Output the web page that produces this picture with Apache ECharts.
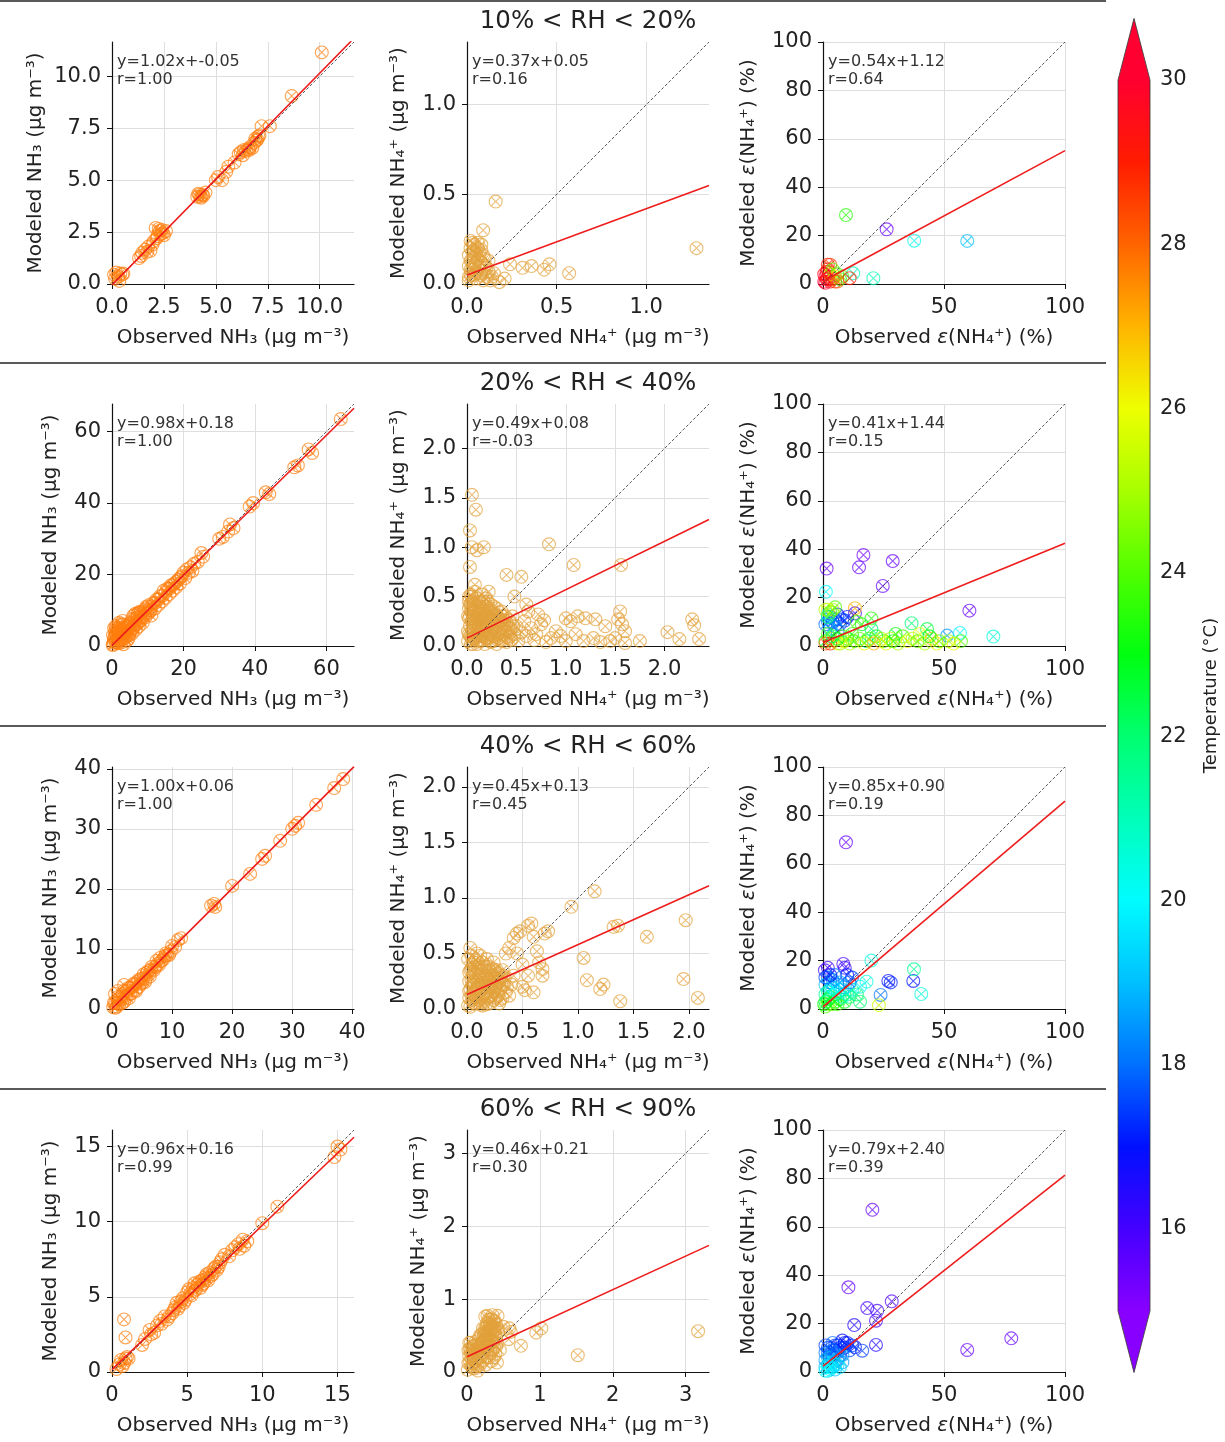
<!DOCTYPE html>
<html><head><meta charset="utf-8">
<script src="https://cdn.jsdelivr.net/npm/echarts@6/dist/echarts.min.js"></script>
<style>html,body{margin:0;padding:0;background:#fff}#c{width:1225px;height:1442px}</style>
</head><body><div id="c"></div>
<script>
// ---------------- DATA ----------------
const rhTitles = ['10% < RH < 20%', '20% < RH < 40%', '40% < RH < 60%', '60% < RH < 90%'];
const fitSlope     = [[1.02, 0.37, 0.54], [0.98, 0.49, 0.41], [1.00, 0.45, 0.85], [0.96, 0.46, 0.79]];
const fitIntercept = [[-0.05, 0.05, 1.12], [0.18, 0.08, 1.44], [0.06, 0.13, 0.90], [0.16, 0.21, 2.40]];
const fitR         = [[1.00, 0.16, 0.64], [1.00, -0.03, 0.15], [1.00, 0.45, 0.19], [0.99, 0.30, 0.39]];
const axisMax      = [[11.65, 1.35, 100], [67.7, 2.45, 100], [40.3, 2.18, 100], [16.1, 3.32, 100]];
const xTicks = [
  [[0, 2.5, 5, 7.5, 10], [0, 0.5, 1], [0, 50, 100]],
  [[0, 20, 40, 60], [0, 0.5, 1, 1.5, 2], [0, 50, 100]],
  [[0, 10, 20, 30, 40], [0, 0.5, 1, 1.5, 2], [0, 50, 100]],
  [[0, 5, 10, 15], [0, 1, 2, 3], [0, 50, 100]]
];
const yTicks = [
  [[0, 2.5, 5, 7.5, 10], [0, 0.5, 1], [0, 20, 40, 60, 80, 100]],
  [[0, 20, 40, 60], [0, 0.5, 1, 1.5, 2], [0, 20, 40, 60, 80, 100]],
  [[0, 10, 20, 30, 40], [0, 0.5, 1, 1.5, 2], [0, 20, 40, 60, 80, 100]],
  [[0, 5, 10, 15], [0, 1, 2, 3], [0, 20, 40, 60, 80, 100]]
];
const tickDecimals = [[1, 1, 0], [0, 1, 0], [0, 1, 0], [0, 0, 0]];
const tempRange = [15, 30];
const tempTicks = [16, 18, 20, 22, 24, 26, 28, 30];
const tempColors = ['#8800ff', '#4400ff', '#0010ff', '#0070ff', '#00c0ff', '#00fcff', '#00ffb8', '#00ff70',
                    '#00ff10', '#50ff00', '#a8ff00', '#eeff00', '#ffb400', '#ff6400', '#ff1c00', '#ff0030'];

// NH3 (observed, modeled)
const nh3_10_20 = [[0.1,0.45],[0.2,0.55],[0.3,0.35],[0.4,0.5],[0.5,0.45],[0.35,0.15],[0.15,0.25],[0.55,0.5],[1.3,1.25],[1.45,1.5],[1.6,1.65],[1.75,1.8],[1.85,1.6],[2.0,2.05],[2.1,2.7],[2.2,2.3],[2.3,2.55],[2.4,2.6],[2.5,2.35],[2.6,2.55],[2.25,2.65],[2.45,2.45],[4.1,4.2],[4.2,4.3],[4.3,4.15],[4.4,4.25],[4.5,4.4],[4.25,4.2],[5.0,5.0],[5.1,5.15],[5.3,5.0],[5.6,5.65],[5.5,5.4],[5.9,5.85],[6.1,6.25],[6.2,6.35],[6.3,6.2],[6.45,6.4],[6.55,6.5],[6.65,6.6],[6.75,6.55],[6.85,6.8],[6.95,6.9],[7.0,6.95],[7.1,7.15],[7.2,7.6],[7.6,7.6],[8.65,9.05],[10.1,11.15],[1.4,1.35],[1.7,1.55],[1.95,1.9],[2.15,2.2],[2.35,2.4],[4.15,4.35],[4.35,4.3],[6.35,6.45],[6.6,6.45],[6.9,7.0],[7.05,7.1]];
const nh3_20_40 = [[0.3,0.5],[0.5,2],[0.8,4],[1,1],[1.2,5],[1.5,2.5],[1.8,0.8],[2,3],[2.2,1.5],[2.5,4.5],[2.8,2],[3,3.5],[3.2,0.5],[3.5,5],[3.8,2.5],[4,4],[4.2,1.5],[4.5,5.5],[4.8,3],[5,6],[5.3,4],[5.6,7.5],[5.8,5],[6,8.5],[6.3,6],[6.6,4.5],[7,8],[7.3,6.5],[7.6,9.5],[8,7],[8.3,9],[8.6,6.5],[9,10],[9.3,8],[9.6,11],[10,9],[10.4,11.5],[10.8,10],[11,8.5],[11.5,12],[12,10.5],[12.5,13],[13,11.5],[13.5,14],[14,12.5],[14.5,15.5],[15,13.5],[15.5,16],[16,14.5],[16.5,17],[17,15.5],[17.5,17.5],[18,16.5],[18.5,18.5],[19,17.5],[19.5,19.5],[20,20.5],[20.5,19],[21,21.5],[21.5,20.5],[22,22],[22.5,21],[23,23],[24,23.5],[25,26],[25.5,25],[30,30],[31,30.5],[32.5,32],[33,34],[34,33],[38.5,39],[39.5,40],[43,43],[44,42.5],[51,50],[52,50.5],[55,55],[56,54],[64,63.5],[0.2,0.2],[1,3],[2,5],[3,6],[6.5,9],[7.5,5.5],[0.6,5],[1.5,4.5],[2.5,6],
  [0.5,1],[0.8,2.5],[1.2,3.5],[1.5,1],[1.8,4],[2,2],[2.3,3.5],[2.6,1],[3,4.5],[3.3,2],[3.6,3.5],[4,5.5],[4.3,3],[4.6,2],[5,4.5],[5.3,6.5],[5.6,3.5],[6,5],[6.4,7.5],[6.8,6],[7.2,9],[7.6,7],[8,9.5],[8.5,8],[9,8.5],[9.5,10.5],[10,10],[10.5,9.5],[11,11],[12,12],[13,13],[14,14],[15,15],[16,16],[17,17],[18,18],[19,19],[0.3,3],[1,5.5],[2,6.5],[3,7]];
const nh3_40_60 = [[0.2,0.3],[0.5,1],[0.8,0.4],[1,2],[1.2,0.8],[1.5,1.6],[1.8,2.5],[2,1.2],[2.2,2.2],[2.5,3],[2.8,1.8],[3,3.5],[3.3,2.6],[3.6,4.2],[3.9,3.2],[4.2,4.5],[4.5,3.7],[4.8,5],[5,4.3],[5.3,5.8],[5.6,5],[6,6.3],[6.3,5.4],[6.6,7],[7,6.5],[7.4,8],[7.8,7.3],[8,8.5],[8.5,8.2],[9,9.3],[9.5,9],[10,10.5],[11,11.5],[11.5,11.8],[16.5,17.2],[17,17.5],[17.2,17],[20,20.5],[23,22.5],[25,25],[25.5,25.5],[28,28],[30,30],[30.5,30.5],[31,31],[34,34],[37,36.8],[38.5,38.3],[0.5,2.5],[1,3],[2,4],
  [0.3,1],[0.6,0.2],[1,1],[1.3,1.8],[1.7,1],[2,3],[2.4,2],[2.7,3.5],[3,2.5],[3.4,3.6],[3.7,4],[4,3],[4.4,4.8],[4.7,4.2],[5.2,5.1],[5.5,4.5],[5.8,6],[6.2,5.8],[6.5,6.5],[7.2,7],[7.6,7.5],[8.2,8],[8.8,8.8],[9.2,9],[9.8,9.6],[10.5,10.3]];
const nh3_60_90 = [[0.3,0.2],[0.5,0.5],[0.6,0.8],[0.8,0.6],[0.9,0.9],[1,1.0],[0.8,3.5],[0.9,2.3],[2,1.8],[2.5,2.8],[2.8,2.6],[3,3.1],[3.3,3.2],[3.5,3.7],[3.7,3.5],[4,3.9],[4.2,4.3],[4.4,4.2],[4.6,4.7],[4.8,4.6],[5,5.3],[5.1,5.5],[5.3,5.1],[5.5,5.4],[5.7,5.8],[5.9,5.6],[6,6.1],[6.2,6.3],[6.4,6.1],[6.5,6.6],[6.7,6.5],[6.9,7.0],[7.0,6.8],[7.3,7.5],[7.5,7.8],[8,8.1],[8.2,8.3],[8.5,8.2],[8.7,8.8],[9,8.7],[10,9.9],[11,11],[14.8,14.3],[15,15],[15.2,14.8],[5.5,5.9],[6,5.8],[6.3,6.5],
  [3.2,3.4],[3.8,3.7],[4.1,4.1],[4.3,4.6],[4.5,4.4],[4.7,4.9],[4.9,4.8],[5.2,5.2],[5.4,5.6],[5.6,5.5],[5.8,6.0],[6.1,5.9],[6.3,6.2],[6.6,6.4],[6.8,6.9],[7.1,7.0],[7.2,7.3],[7.8,7.7],[8.4,8.5],[8.8,8.4],[2.2,2.2],[2.6,2.5],[1.1,0.9],[0.7,0.4]];

// NH4+ (observed, modeled)
const nh4_10_20 = [[0.01,0.02],[0.02,0.05],[0.03,0.08],[0.01,0.1],[0.02,0.13],[0.04,0.15],[0.03,0.18],[0.05,0.12],[0.06,0.09],[0.07,0.06],[0.05,0.03],[0.08,0.12],[0.09,0.16],[0.02,0.2],[0.04,0.22],[0.06,0.2],[0.01,0.16],[0.07,0.17],[0.1,0.1],[0.11,0.04],[0.12,0.07],[0.13,0.02],[0.09,0.02],[0.03,0.23],[0.08,0.19],[0.09,0.3],[0.16,0.46],[0.18,0.01],[0.21,0.03],[0.24,0.11],[0.31,0.09],[0.36,0.1],[0.43,0.08],[0.46,0.11],[0.57,0.06],[1.28,0.2],[0.15,0.06],[0.05,0.06],[0.12,0.13],
  [0.01,0.04],[0.02,0.08],[0.03,0.12],[0.04,0.05],[0.05,0.17],[0.06,0.14],[0.07,0.1],[0.08,0.05],[0.1,0.14],[0.04,0.19],[0.06,0.23],[0.02,0.24],[0.11,0.09],[0.14,0.04],[0.08,0.22]];
const nh4_20_40 = [[0.01,0.05],[0.02,0.12],[0.03,0.2],[0.02,0.28],[0.04,0.35],[0.03,0.42],[0.05,0.5],[0.06,0.3],[0.07,0.18],[0.08,0.08],[0.09,0.4],[0.1,0.25],[0.11,0.15],[0.12,0.45],[0.13,0.32],[0.14,0.05],[0.15,0.22],[0.16,0.38],[0.17,0.12],[0.18,0.28],[0.19,0.48],[0.2,0.18],[0.21,0.35],[0.22,0.08],[0.23,0.25],[0.24,0.42],[0.25,0.15],[0.26,0.3],[0.27,0.05],[0.28,0.22],[0.3,0.38],[0.31,0.12],[0.32,0.28],[0.34,0.18],[0.35,0.06],[0.36,0.3],[0.38,0.15],[0.4,0.24],[0.42,0.08],[0.44,0.18],[0.46,0.3],[0.48,0.12],[0.5,0.2],[0.52,0.05],[0.55,0.14],[0.58,0.25],[0.6,0.1],[0.62,0.35],[0.65,0.18],[0.68,0.06],[0.04,0.02],[0.1,0.02],[0.06,0.45],[0.15,0.52],[0.08,0.55],[0.02,0.38],[0.12,0.1],[0.18,0.02],[0.3,0.02],[0.05,0.25],
  [0.02,0.45],[0.04,0.52],[0.06,0.38],[0.07,0.28],[0.09,0.2],[0.11,0.33],[0.12,0.22],[0.13,0.4],[0.14,0.15],[0.16,0.26],[0.17,0.45],[0.18,0.35],[0.19,0.08],[0.2,0.4],[0.21,0.22],[0.22,0.3],[0.23,0.12],[0.24,0.34],[0.25,0.26],[0.26,0.1],[0.27,0.2],[0.28,0.32],[0.29,0.15],[0.3,0.26],[0.32,0.08],[0.33,0.34],[0.34,0.25],[0.36,0.12],[0.37,0.22],[0.39,0.3],[0.41,0.14],[0.43,0.26],[0.45,0.06],[0.47,0.2],[0.01,0.3],[0.03,0.1],[0.05,0.15],[0.07,0.42],[0.08,0.35],[0.1,0.48],[0.02,0.5],[0.11,0.06],[0.15,0.1],[0.2,0.28],[0.25,0.05],[0.35,0.35],[0.4,0.04],[0.06,0.02],[0.13,0.2],[0.17,0.3],
  [0.01,0.15],[0.03,0.3],[0.04,0.42],[0.05,0.07],[0.06,0.2],[0.08,0.25],[0.09,0.1],[0.1,0.38],[0.11,0.28],[0.12,0.17],[0.13,0.06],[0.14,0.34],[0.15,0.43],[0.16,0.16],[0.17,0.22],[0.19,0.3],[0.2,0.1],[0.21,0.45],[0.22,0.2],[0.23,0.38],[0.24,0.04],[0.26,0.18],[0.27,0.4],[0.28,0.1],[0.29,0.3],[0.31,0.2],[0.33,0.14],[0.35,0.22],[0.37,0.05],[0.38,0.26],[0.42,0.18],[0.44,0.1],
  [0.05,1.53],[0.09,1.38],[0.03,1.17],[0.05,1.0],[0.1,0.97],[0.17,1.0],[0.03,0.8],[0.08,0.62],[0.22,0.55],[0.4,0.72],[0.55,0.7],[0.48,0.5],[0.83,1.03],[1.08,0.82],[1.56,0.82],[0.6,0.42],[0.72,0.32],[0.75,0.22],[0.78,0.26],[0.9,0.15],[0.95,0.1],[1.0,0.28],[1.05,0.25],[1.12,0.3],[1.2,0.28],[1.3,0.27],[1.4,0.2],[1.53,0.27],[1.55,0.35],[1.57,0.22],[1.6,0.15],[1.18,0.05],[1.28,0.08],[1.45,0.05],[1.75,0.05],[2.03,0.14],[2.15,0.07],[2.28,0.27],[2.3,0.21],[2.35,0.07],[1.0,0.05],[0.85,0.08],[0.7,0.12],[1.1,0.12],[1.35,0.04],[1.5,0.08],[1.6,0.03],[0.8,0.04]];
const nh4_40_60 = [[0.01,0.03],[0.02,0.1],[0.03,0.18],[0.04,0.26],[0.02,0.33],[0.05,0.4],[0.06,0.14],[0.07,0.22],[0.08,0.3],[0.09,0.06],[0.1,0.36],[0.11,0.18],[0.12,0.26],[0.13,0.1],[0.14,0.42],[0.15,0.2],[0.16,0.3],[0.17,0.04],[0.18,0.14],[0.19,0.38],[0.2,0.24],[0.22,0.3],[0.23,0.16],[0.24,0.08],[0.25,0.28],[0.26,0.2],[0.27,0.35],[0.28,0.12],[0.29,0.25],[0.3,0.18],[0.31,0.3],[0.32,0.1],[0.33,0.22],[0.35,0.15],[0.04,0.48],[0.03,0.55],[0.08,0.44],[0.12,0.04],[0.05,0.08],[0.1,0.12],
  [0.02,0.25],[0.03,0.35],[0.04,0.12],[0.05,0.22],[0.06,0.32],[0.07,0.05],[0.08,0.16],[0.09,0.26],[0.1,0.42],[0.11,0.08],[0.12,0.34],[0.13,0.2],[0.14,0.28],[0.15,0.12],[0.16,0.38],[0.17,0.22],[0.18,0.3],[0.19,0.1],[0.2,0.35],[0.21,0.2],[0.22,0.12],[0.23,0.28],[0.24,0.36],[0.25,0.18],[0.26,0.1],[0.27,0.25],[0.28,0.32],[0.3,0.08],[0.31,0.22],[0.32,0.35],[0.34,0.28],[0.36,0.2],[0.06,0.42],[0.09,0.5],[0.01,0.45],[0.03,0.02],[0.14,0.03],[0.2,0.05],[0.18,0.45],[0.24,0.42],
  [0.02,0.16],[0.04,0.36],[0.06,0.24],[0.07,0.38],[0.08,0.1],[0.1,0.2],[0.11,0.3],[0.13,0.38],[0.15,0.06],[0.16,0.24],[0.18,0.2],[0.2,0.3],[0.21,0.12],[0.23,0.22],[0.25,0.34],[0.27,0.16],[0.29,0.05],[0.3,0.28],[0.33,0.3],[0.12,0.48],
  [0.35,0.5],[0.38,0.55],[0.42,0.64],[0.45,0.68],[0.48,0.7],[0.55,0.75],[0.58,0.77],[0.6,0.65],[0.63,0.52],[0.7,0.68],[0.73,0.7],[0.68,0.36],[0.68,0.3],[0.5,0.4],[0.5,0.2],[0.52,0.17],[0.6,0.15],[0.65,0.42],[0.45,0.5],[0.94,0.92],[1.15,1.06],[1.05,0.46],[1.08,0.26],[1.2,0.18],[1.23,0.22],[1.32,0.74],[1.36,0.75],[1.38,0.07],[1.62,0.65],[1.97,0.8],[1.95,0.27],[2.08,0.1],[0.55,0.3],[0.42,0.3],[0.38,0.12],[0.4,0.22]];
const nh4_60_90 = [[0.01,0.03],[0.02,0.12],[0.03,0.22],[0.04,0.32],[0.05,0.4],[0.06,0.08],[0.07,0.18],[0.08,0.28],[0.1,0.36],[0.11,0.05],[0.12,0.15],[0.13,0.25],[0.15,0.33],[0.16,0.45],[0.18,0.1],[0.19,0.2],[0.2,0.3],[0.22,0.4],[0.23,0.5],[0.25,0.6],[0.26,0.35],[0.27,0.22],[0.28,0.45],[0.3,0.55],[0.31,0.65],[0.32,0.3],[0.33,0.42],[0.35,0.5],[0.36,0.7],[0.37,0.6],[0.38,0.38],[0.4,0.48],[0.42,0.77],[0.25,0.76],[0.3,0.72],[0.34,0.15],[0.41,0.13],[0.15,0.02],[0.05,0.28],[0.2,0.52],
  [0.02,0.3],[0.03,0.4],[0.04,0.15],[0.06,0.25],[0.07,0.35],[0.09,0.12],[0.1,0.22],[0.12,0.42],[0.13,0.32],[0.14,0.08],[0.16,0.2],[0.17,0.3],[0.18,0.5],[0.2,0.4],[0.21,0.15],[0.22,0.6],[0.24,0.28],[0.25,0.45],[0.27,0.55],[0.28,0.68],[0.29,0.35],[0.3,0.2],[0.32,0.58],[0.33,0.72],[0.34,0.45],[0.35,0.3],[0.36,0.62],[0.38,0.52],[0.39,0.25],[0.4,0.65],[0.41,0.4],[0.43,0.55],[0.35,0.78],[0.28,0.77],[0.08,0.05],[0.26,0.1],[0.31,0.45],[0.37,0.2],
  [0.21,0.35],[0.23,0.42],[0.24,0.55],[0.26,0.5],[0.27,0.62],[0.29,0.5],[0.3,0.4],[0.32,0.66],[0.34,0.6],[0.36,0.4],[0.38,0.7],[0.39,0.58],[0.4,0.35],[0.42,0.6],[0.19,0.28],[0.17,0.38],[0.11,0.28],[0.09,0.2],
  [0.57,0.45],[0.6,0.55],[0.58,0.6],[0.74,0.36],[0.95,0.54],[1.02,0.6],[1.52,0.23],[3.17,0.56],[0.45,0.3],[0.5,0.62]];

// epsilon(NH4+) (observed %, modeled %, temperature degC)
const eps_10_20 = [[0.5,1,30],[1,3,30],[1.5,5,29.5],[2,6,29],[3,8,28.5],[2,8,29],[4,2,28],[1,0.5,30],[3,1,29.5],[5,1,29],[6,4,24],[7,2,23.5],[8,3,24],[5,3,27],[3,4,26],[2,2,28.5],[4,6,24],[12.5,4.4,21],[11,2.4,29],[20.8,2.4,21],[9.5,28.5,23.5],[26.3,22.6,15.5],[37.7,17.9,20.3],[59.6,17.8,19],[1.5,2,30],[6,1,28],[0.5,4,29.5]];
const eps_20_40 = [[1.5,32,15.5],[14.9,32.5,15.5],[16.7,37.6,15.3],[28.8,35.1,15.5],[24.7,24.8,15.5],[60.5,14.6,15.5],[13.2,13.5,16],[13.2,15.6,27],[1.2,22.4,20],
  [3,12,17.5],[4,10,17],[5,11,17.5],[6,13,17.2],[7,9,17.8],[8,11,18],[9,10.5,17.5],[10,12,17],[5,8,18.5],[2,10,18.2],[3,7,19],[6,6,17.8],[1,9,18],[2,13,19.5],
  [20,11.4,23.5],[36.6,9.4,22],[30,5,23],[33,4,24],[43,7,22.5],[40,5,26],[51.3,4.3,18.5],[56.6,5.4,20],[57,2,24],[70.4,3.9,20.5],[5,16,24],[4,15,25],[2,15,26],[8,4,24],[10,3,23],[12,5,23.5],[15,3,24],[18,2,22],[22,4,23],[25,2,24],[28,3,25],[35,2,26],[45,3,27],[47,1,26],[52,2,25],[1,2,23],[2,5,24],[3,3,25],[6,1,26],[1,1,28],[3,1,29],[20,7,22],[16,9,23],[14,10,24],
  [7,1,25],[9,2,26],[11,1,25],[13,2,24],[17,1,26],[19,3,24],[21,1,27],[24,3,25],[26,1,26],[29,2,23],[31,1,25],[37,3,25],[39,2,24],[42,1,25],[44,4,23],[48,2,24],[54,1,26],[4,4,22],[6,3,23],[3,14,24],[1,15,25],[2,12,22]];
const eps_40_60 = [[9.5,68.9,15.5],[8.4,18.6,16],[9,17,16.2],[0.8,16,16],[2,17,16],[10,14,17],[12,13,17.5],[20,20,20.5],[18,11.3,20.5],[15.3,9.2,20],[27,11.6,17],[28,11,17.2],[37.3,11.6,17],[37.6,16.4,21.5],[40.6,6.2,20.5],[23.8,5.8,18],[23.1,1.6,25.5],[15.3,3,22],[2,13,18],[4,12,18.5],[6,10,19],[8,8,19.5],[3,8,20],[5,6,21],[7,4,22],[2,4,23],[4,2,24],[1,6,21.5],[6,2,24],[9,3,23],[11,5,22],[3,11,17.5],[5,14,18],[1,10,19],[2,2,25],[1,1,24],[12,8,20.5],[14,6,22],
  [1,3,22],[2,7,21],[3,5,22.5],[4,9,20],[5,3,23],[6,7,20],[7,11,18.5],[8,5,21],[9,9,19],[10,6,21],[11,11,18],[3,14,17],[1,13,17.5],[0.5,2,23]];
const eps_60_90 = [[20.4,67,15.5],[10.5,35,15.5],[18.3,26.4,16],[22.4,25.3,16],[28.4,29.2,15.8],[12.9,19.4,16.5],[21.9,21.2,16],[21.9,11.2,16.5],[13.2,10.3,17],[16.2,8.8,17.5],[59.6,9.1,15.5],[77.8,13.9,15.5],
  [1,2,19],[1,5,18.5],[1,8,18],[2,3,19.5],[2,6,19],[2,10,17.5],[3,4,20],[3,8,18],[4,2,19.5],[4,6,18.5],[4,12,18],[5,3,19],[5,9,17.5],[6,5,18.5],[6,11,17],[7,7,18],[8,13,17],[9,10,17.5],[10,12,17],[11,9,17.5],[3,1,20],[2,0.5,19.5],[5,1,19],[12,11,17.5],[8,4,18.5],[7,2,19.5],
  [1,11,17.5],[2,8,18],[3,6,19],[4,9,18],[5,11,17.5],[6,8,18],[7,10,17.5],[8,7,18.5],[9,12,17],[3,2,20],[4,4,19.5],[1,0.5,20],[6,3,19.5]];

const panelData = [
  [nh3_10_20, nh4_10_20, eps_10_20],
  [nh3_20_40, nh4_20_40, eps_20_40],
  [nh3_40_60, nh4_40_60, eps_40_60],
  [nh3_60_90, nh4_60_90, eps_60_90]
];

// ---------------- LAYOUT / STYLE ----------------
const FONT = '"DejaVu Sans", sans-serif';
const FS = 21;   // tick labels
const NFS = 20;  // axis names
const colLeft = [112, 467, 823];
const rowTop = [42, 404, 767, 1130];
const S = 242;
const yNameGap = [[66, 58, 64], [51, 58, 64], [51, 58, 64], [51, 38, 64]];
const markerColor = ['#ff7f0e', '#e3a13a', null];
// circle with an x inside (filled geometry so the symbol colour is the visual colour)
const OTIMES = 'path://M10 0A10 10 0 1 1 -10 0A10 10 0 1 1 10 0Z' +
  'M8.4 0A8.4 8.4 0 1 0 -8.4 0A8.4 8.4 0 1 0 8.4 0Z' +
  'M-5.4 -6.5L6.5 5.4L5.4 6.5L-6.5 -5.4Z' +
  'M-5.4 6.5L-6.5 5.4L5.4 -6.5L6.5 -5.4Z';

const nameStyle = {
  fontSize: NFS, color: '#222', fontFamily: FONT,
  rich: {
    n: {fontSize: NFS, color: '#222', fontFamily: FONT},
    i: {fontSize: NFS, color: '#222', fontFamily: FONT, fontStyle: 'italic'}
  }
};
const xNames = [
  '{n|Observed NH₃ (μg m⁻³)}',
  '{n|Observed NH₄⁺ (μg m⁻³)}',
  '{n|Observed }{i|ε}{n|(NH₄⁺) (%)}'
];
const yNames = [
  '{n|Modeled NH₃ (μg m⁻³)}',
  '{n|Modeled NH₄⁺ (μg m⁻³)}',
  '{n|Modeled }{i|ε}{n|(NH₄⁺) (%)}'
];

const grids = [], xAxes = [], yAxes = [], series = [], graphics = [], epsIdx = [];

for (let r = 0; r < 4; r++) {
  for (let c = 0; c < 3; c++) {
    const k = r * 3 + c;
    const m = axisMax[r][c];
    const dec = tickDecimals[r][c];
    const fmt = v => Number(v).toFixed(dec);
    grids.push({left: colLeft[c], top: rowTop[r], width: S, height: S, containLabel: false});
    const common = {
      type: 'value', gridIndex: k, min: 0, max: m,
      axisLine: {show: true, onZero: false, lineStyle: {color: '#111', width: 1.2}},
      splitLine: {show: true, lineStyle: {color: '#dedede', width: 1}},
      nameLocation: 'middle', nameTextStyle: nameStyle
    };
    xAxes.push(Object.assign({}, common, {
      axisTick: {show: true, inside: false, length: 5, customValues: xTicks[r][c], lineStyle: {color: '#111', width: 1}},
      axisLabel: {customValues: xTicks[r][c], formatter: fmt, fontSize: FS, color: '#222', fontFamily: FONT, margin: 13},
      name: xNames[c], nameGap: 44
    }));
    yAxes.push(Object.assign({}, common, {
      axisTick: {show: true, inside: false, length: 5, customValues: yTicks[r][c], lineStyle: {color: '#111', width: 1}},
      axisLabel: {customValues: yTicks[r][c], formatter: fmt, fontSize: FS, color: '#222', fontFamily: FONT, margin: 11},
      name: yNames[c], nameGap: yNameGap[r][c]
    }));
    const sc = {
      type: 'scatter', xAxisIndex: k, yAxisIndex: k, data: panelData[r][c],
      symbol: OTIMES, symbolSize: 14, symbolKeepAspect: true, silent: true, z: 2,
      itemStyle: {opacity: 0.7}
    };
    if (markerColor[c]) sc.itemStyle.color = markerColor[c];
    if (c === 2) epsIdx.push(series.length);
    series.push(sc);
    series.push({
      type: 'line', xAxisIndex: k, yAxisIndex: k, data: [[0, 0], [m, m]], symbol: 'none', silent: true, z: 3,
      lineStyle: {color: '#444', width: 0.9, type: [3, 2]}
    });
    const a = fitSlope[r][c], b = fitIntercept[r][c];
    series.push({
      type: 'line', xAxisIndex: k, yAxisIndex: k, data: [[0, b], [m, a * m + b]], symbol: 'none', silent: true, z: 4,
      lineStyle: {color: '#ee1c1c', width: 1.6}
    });
    graphics.push({type: 'text', x: colLeft[c] + 5, y: rowTop[r] + 19.5, z: 10,
      style: {text: 'y=' + a.toFixed(2) + 'x+' + b.toFixed(2), font: '16px ' + FONT, fill: '#333', verticalAlign: 'middle'}});
    graphics.push({type: 'text', x: colLeft[c] + 5, y: rowTop[r] + 37.5, z: 10,
      style: {text: 'r=' + fitR[r][c].toFixed(2), font: '16px ' + FONT, fill: '#333', verticalAlign: 'middle'}});
  }
  graphics.push({type: 'text', x: 588, y: rowTop[r] - 20,
    style: {text: rhTitles[r], font: '24.5px ' + FONT, fill: '#222', align: 'center', verticalAlign: 'middle'}});
  const ly = r === 0 ? 1 : rowTop[r] - 41;
  graphics.push({type: 'line', shape: {x1: 0, y1: ly, x2: 1106, y2: ly}, style: {stroke: '#222', lineWidth: 1.6}});
}

// colour bar (its own grid + axis)
const cb = grids.length;
grids.push({left: 1118, top: 80, width: 32, height: 1231, containLabel: false});
xAxes.push({type: 'value', gridIndex: cb, min: 0, max: 1, show: false});
yAxes.push({
  type: 'value', gridIndex: cb, min: tempRange[0], max: tempRange[1], position: 'right',
  axisLine: {show: false}, splitLine: {show: false},
  axisTick: {show: true, inside: false, length: 5, customValues: tempTicks, lineStyle: {color: '#333'}},
  axisLabel: {customValues: tempTicks, fontSize: FS, color: '#222', fontFamily: FONT, margin: 10},
  name: 'Temperature (°C)', nameLocation: 'middle', nameGap: 52,
  nameTextStyle: {fontSize: 18, color: '#222', fontFamily: FONT}
});
series.push({
  type: 'custom', xAxisIndex: cb, yAxisIndex: cb, silent: true, clip: false,
  data: [[0, tempRange[0], 1, tempRange[1]]],
  renderItem: function (params, api) {
    const p0 = api.coord([api.value(0), api.value(3)]);
    const p1 = api.coord([api.value(2), api.value(1)]);
    const h = p1[1] - p0[1];
    const ext = 0.05 * h;
    const xm = (p0[0] + p1[0]) / 2;
    const n = tempColors.length;
    const stops = tempColors.map((col, i) => ({offset: 1 - i / (n - 1), color: col}));
    return {
      type: 'group',
      children: [
        {type: 'rect', shape: {x: p0[0], y: p0[1], width: p1[0] - p0[0], height: h},
          style: {fill: {type: 'linear', x: 0, y: 0, x2: 0, y2: 1, colorStops: stops}}},
        {type: 'polygon', shape: {points: [[p0[0], p0[1] + 0.5], [p1[0], p0[1] + 0.5], [xm, p0[1] - ext]]},
          style: {fill: tempColors[n - 1]}},
        {type: 'polygon', shape: {points: [[p0[0], p1[1] - 0.5], [p1[0], p1[1] - 0.5], [xm, p1[1] + ext]]},
          style: {fill: tempColors[0]}},
        {type: 'polygon', shape: {points: [[p0[0], p0[1]], [xm, p0[1] - ext], [p1[0], p0[1]], [p1[0], p1[1]], [xm, p1[1] + ext], [p0[0], p1[1]]]},
          style: {fill: 'none', stroke: '#333', lineWidth: 0.8}}
      ]
    };
  }
});

const option = {
  animation: false,
  backgroundColor: '#fff',
  grid: grids, xAxis: xAxes, yAxis: yAxes, series: series,
  visualMap: {type: 'continuous', show: false, min: tempRange[0], max: tempRange[1], dimension: 2,
    seriesIndex: epsIdx, inRange: {color: tempColors}},
  graphic: graphics
};
const chart = echarts.init(document.getElementById('c'), null, {renderer: 'canvas'});
chart.setOption(option);
</script>
</body></html>
